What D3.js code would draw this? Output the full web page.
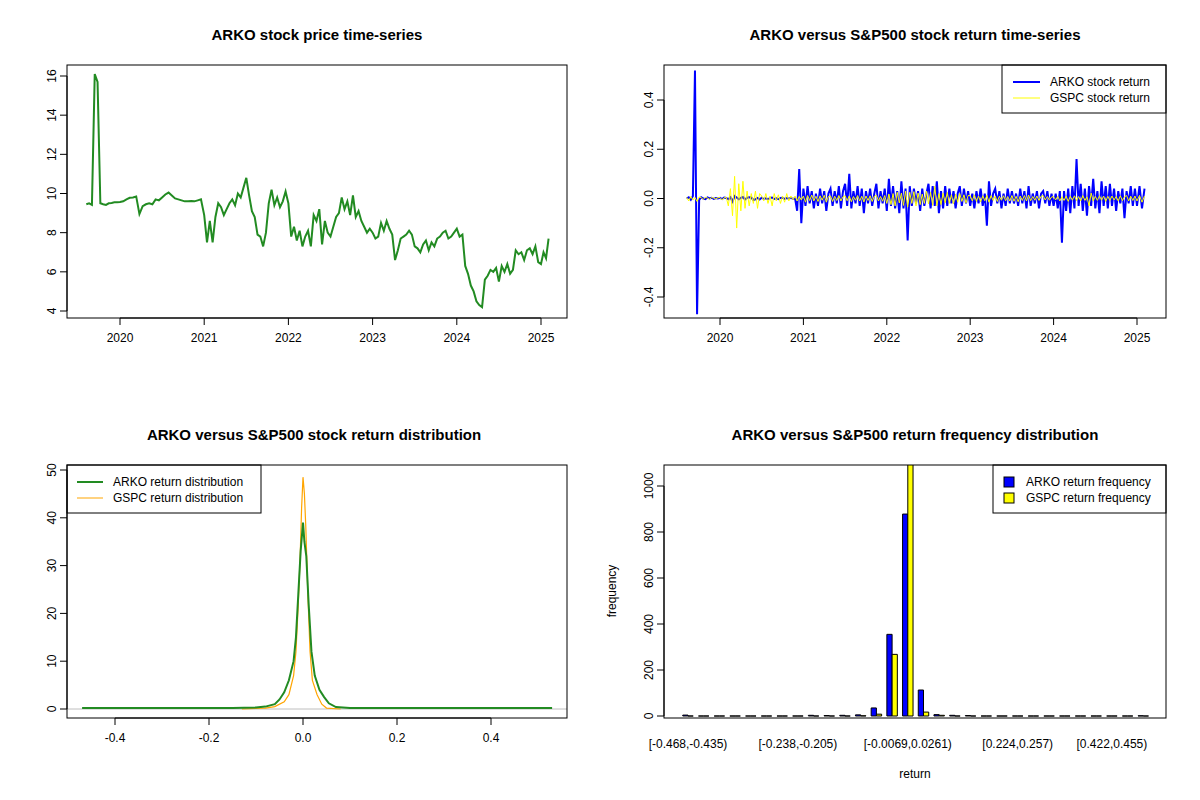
<!DOCTYPE html>
<html>
<head>
<meta charset="utf-8">
<script src="https://cdn.jsdelivr.net/npm/d3@7"></script>
<style>
  body { margin: 0; background: #fff; }
  text { font-family: "Liberation Sans", Arial, sans-serif; }
</style>
</head>
<body>
<div id="chart"></div>
<script>
// Data: ARKO price, evenly spaced within each year segment
const price2019 = [9.45,9.5,9.42,16.1,15.7,9.5,9.45,9.42,9.5,9.52,9.55,9.55]
const price2020 = [9.57,9.6,9.7,9.78,9.8,9.85,8.95,9.35,9.45,9.5,9.45,9.7,9.65,9.8,9.95,10.05,9.9,9.75,9.7,9.65,9.6,9.6,9.62,9.6,9.65,9.7]
const price2021 = [8.9,7.5,8.6,7.5,8.8,9.5,9.3,8.9,9.2,9.5,9.7,9.4,10.0,9.8,10.3,10.8,9.9,9.1,8.8,7.9,7.8,7.3,8.0,9.5,10.2,9.4,9.8,9.3,9.6,10.1]
const price2022 = [9.5,7.8,8.3,7.6,8.1,7.3,7.8,8.1,7.3,8.9,8.6,9.2,7.4,8.6,8.0,7.8,8.3,8.8,9.0,9.8,9.2,9.6,8.9,9.9,8.8,9.1,8.6,8.3,8.0,8.2]
const price2023 = [8.0,7.7,7.8,8.5,8.1,8.6,8.2,7.9,6.6,7.1,7.7,7.8,7.9,8.1,7.9,7.3,7.2,7.0,7.4,7.6,7.1,7.5,7.3,7.7,7.8,8.0,8.1,7.7,7.8,8.0]
const price2024 = [8.2,7.8,7.9,6.3,5.9,5.3,5.0,4.5,4.3,4.2,5.6,5.8,6.1,6.0,6.2,5.5,6.3,6.0,6.4,5.9,6.1,7.1,6.9,7.0,6.6,7.1,7.2,6.9,7.3,6.5]
const price2025 = [6.4,7.0,6.7,7.7]

// Data: daily-ish returns
const arko2019 = [0,0.005,-0.005,0.01,0.52,-0.47,-0.005,0.005,0,-0.003,0.004,0,0.003,-0.002,0.002,0]
const arko2020 = [0.003,-0.002,0.004,0.002,-0.003,0.005,-0.012,0.01,0.004,-0.003,0.002,0.006,-0.004,0.003,0.005,0.004,-0.006,-0.003,0.002,-0.004,0.003,-0.002,0.001,-0.003,0.002,0.004,-0.002,0.001,-0.003,0.002,0.003,-0.002,0.002,-0.001,0.003,-0.002,0.001,-0.05,0.12,-0.1]
const arko2021 = [0.04,-0.03,0.05,-0.02,0.03,-0.04,0.02,-0.03,0.04,-0.02,0.03,-0.05,0.02,0.04,-0.03,0.03,-0.02,0.05,-0.04,0.03,0.06,-0.03,0.1,-0.04,0.03,-0.02,0.05,-0.03,0.04,-0.06,0.03,-0.02,0.04,-0.03,0.02,0.06,-0.04,0.03,-0.02,0.04]
const arko2022 = [-0.05,0.08,-0.03,0.05,-0.04,0.03,-0.06,0.07,-0.04,0.04,-0.17,0.05,-0.03,0.04,-0.02,0.03,-0.05,0.04,-0.03,0.02,0.06,-0.04,0.05,-0.03,0.07,-0.06,0.03,-0.04,0.05,-0.03,0.04,-0.02,0.03,-0.04,0.02,0.05,-0.03,0.04,-0.02,0.03]
const arko2023 = [-0.03,0.02,-0.04,0.03,-0.02,0.04,-0.03,0.02,-0.11,0.07,-0.03,0.02,0.04,-0.02,0.03,-0.04,0.02,-0.03,0.04,-0.02,0.03,-0.02,0.02,-0.03,0.04,-0.02,0.03,-0.04,0.05,-0.03,0.02,-0.02,0.03,-0.04,0.02,0.03,-0.02,0.03,-0.03,0.02]
const arko2024 = [-0.03,0.02,-0.04,0.03,-0.18,0.03,-0.05,0.04,-0.06,0.05,-0.04,0.16,-0.03,0.06,-0.05,0.04,-0.07,0.05,-0.03,0.08,-0.04,0.03,-0.06,0.07,-0.03,0.05,-0.04,0.06,-0.03,0.04,-0.05,0.03,-0.02,0.04,-0.08,0.03,-0.02,0.05,-0.03,0.04]
const arko2025 = [-0.03,0.05,-0.04,0.04]

const gspc2019 = [0.005,-0.01,0.008,-0.006,0.004,-0.012,0.006,0.003,-0.004,0.005,0.002,-0.003,0.004,0.002,-0.002,0.003]
const gspc2020 = [0.004,-0.006,0.003,0.005,-0.03,0.04,-0.07,0.09,-0.12,0.06,-0.05,0.07,-0.04,0.03,-0.03,0.02,-0.02,0.03,-0.04,0.02,0.01,-0.01,0.02,-0.02,0.01,-0.03,0.02,-0.01,0.015,-0.02,0.01,-0.015,0.02,-0.01,0.01,-0.005,0.01,-0.01,0.008,-0.006]
const gspc2021 = [0.01,-0.015,0.012,-0.008,0.014,-0.01,0.009,-0.012,0.011,-0.007,0.013,-0.015,0.008,0.01,-0.012,0.009,-0.008,0.012,-0.01,0.007,0.011,-0.009,0.01,-0.013,0.008,-0.007,0.012,-0.01,0.009,-0.014,0.01,-0.008,0.011,-0.012,0.009,0.013,-0.01,0.008,-0.011,0.012]
const gspc2022 = [-0.02,0.018,-0.025,0.02,-0.03,0.025,-0.018,0.022,-0.028,0.03,-0.035,0.025,-0.02,0.028,-0.03,0.022,-0.025,0.018,-0.02,0.03,-0.022,0.025,-0.028,0.05,-0.03,0.02,-0.025,0.022,-0.018,0.025,-0.02,0.015,-0.022,0.018,-0.015,0.02,-0.012,0.015,-0.018,0.012]
const gspc2023 = [0.012,-0.01,0.015,-0.012,0.01,-0.014,0.011,-0.009,0.013,-0.015,0.012,-0.008,0.01,-0.012,0.009,-0.007,0.011,-0.009,0.008,-0.01,0.012,-0.011,0.009,-0.013,0.01,-0.008,0.012,-0.01,0.014,-0.009,0.008,-0.007,0.01,-0.008,0.009,0.012,-0.006,0.008,-0.007,0.006]
const gspc2024 = [0.008,-0.006,0.009,-0.01,0.007,-0.008,0.01,-0.012,0.009,-0.007,0.011,-0.009,0.008,-0.01,0.012,-0.008,0.007,-0.03,0.022,-0.01,0.009,-0.008,0.011,-0.007,0.01,-0.012,0.009,-0.008,0.01,-0.006,0.008,-0.01,0.011,-0.009,0.007,0.012,-0.01,0.009,-0.008,0.01]
const gspc2025 = [-0.01,0.012,-0.015,0.01]

// Data: kernel densities
const arkoDensX = [-0.47,-0.15,-0.1,-0.08,-0.06,-0.05,-0.04,-0.03,-0.02,-0.015,-0.01,-0.005,0,0.003,0.007,0.012,0.018,0.025,0.035,0.045,0.055,0.07,0.1,0.53]
const arkoDensY = [0.2,0.2,0.3,0.5,1,2,3.5,6,10,15,24,33,39,35,32,22,12,7,4,2.5,1.2,0.4,0.2,0.2]
const gspcDensX = [-0.13,-0.08,-0.06,-0.04,-0.03,-0.02,-0.015,-0.01,-0.006,-0.003,0,0.003,0.006,0.01,0.015,0.02,0.03,0.04,0.05,0.08]
const gspcDensY = [0,0.2,0.5,1.5,3,7,12,22,32,42,48.5,45,38,25,12,6,3,1,0.2,0]

// Data: histogram of returns (30 bins of width 0.033 from -0.468)
const binLabels = {0: '[-0.468,-0.435)', 7: '[-0.238,-0.205)', 14: '[-0.0069,0.0261)', 21: '[0.224,0.257)', 27: '[0.422,0.455)'}
const arkoFreq = [4,0,0,0,0,0,0,0,3,2,3,5,35,355,878,113,6,3,2,0,0,0,0,0,0,0,0,0,0,1]
const gspcFreq = [0,0,0,0,0,0,0,0,0,0,0,1,8,268,1180,17,3,0,0,0,0,0,0,0,0,0,0,0,0,0]

// Build dated series from per-year segments
function dated(segments) {
  const starts = [2019.6, 2020, 2021, 2022, 2023, 2024, 2025]
  const ends = [2020, 2021, 2022, 2023, 2024, 2025, 2025.12]
  const out = []
  segments.forEach((seg, k) => {
    const step = (ends[k] - starts[k]) / seg.length
    seg.forEach((v, i) => out.push({ t: starts[k] + i * step, v }))
  })
  return out
}
const price = dated([price2019, price2020, price2021, price2022, price2023, price2024, price2025])
const arko = dated([arko2019, arko2020, arko2021, arko2022, arko2023, arko2024, arko2025])
const gspc = dated([gspc2019, gspc2020, gspc2021, gspc2022, gspc2023, gspc2024, gspc2025])

const svg = d3.select('#chart').append('svg').attr('width', 1200).attr('height', 800)

function box(l, t, r, b) {
  svg.append('rect').attr('x', l).attr('y', t).attr('width', r - l).attr('height', b - t)
    .attr('fill', 'none').attr('stroke', '#000')
}
function title(x, y, txt) {
  svg.append('text').attr('x', x).attr('y', y).attr('text-anchor', 'middle')
    .attr('font-size', 15).attr('font-weight', 'bold').text(txt)
}
// R-style axes: line from first to last tick only
function xAxis(scale, ticks, y, fmt) {
  const g = svg.append('g')
  g.append('line').attr('x1', scale(ticks[0])).attr('x2', scale(ticks[ticks.length - 1]))
    .attr('y1', y).attr('y2', y).attr('stroke', '#000')
  ticks.forEach(d => {
    g.append('line').attr('x1', scale(d)).attr('x2', scale(d)).attr('y1', y).attr('y2', y + 7).attr('stroke', '#000')
    g.append('text').attr('x', scale(d)).attr('y', y + 24).attr('text-anchor', 'middle')
      .attr('font-size', 12).text(fmt(d))
  })
}
function yAxis(scale, ticks, x, fmt) {
  const g = svg.append('g')
  g.append('line').attr('y1', scale(ticks[0])).attr('y2', scale(ticks[ticks.length - 1]))
    .attr('x1', x).attr('x2', x).attr('stroke', '#000')
  ticks.forEach(d => {
    g.append('line').attr('y1', scale(d)).attr('y2', scale(d)).attr('x1', x).attr('x2', x - 7).attr('stroke', '#000')
    g.append('text').attr('transform', `translate(${x - 11},${scale(d)}) rotate(-90)`)
      .attr('text-anchor', 'middle').attr('font-size', 12).text(fmt(d))
  })
}
function clip(id, l, t, r, b) {
  svg.append('clipPath').attr('id', id).append('rect')
    .attr('x', l).attr('y', t).attr('width', r - l).attr('height', b - t)
}

// Panel 1: price
{
  const x = d3.scaleLinear().domain([2020, 2025]).range([120, 541])
  const y = d3.scaleLinear().domain([4, 16]).range([311, 76])
  title(317, 40, 'ARKO stock price time-series')
  svg.append('path').datum(price)
    .attr('d', d3.line().x(d => x(d.t)).y(d => y(d.v)))
    .attr('fill', 'none').attr('stroke', '#228B22').attr('stroke-width', 2)
  box(67, 65, 567, 318)
  xAxis(x, d3.range(2020, 2026), 318, d => d)
  yAxis(y, [4, 6, 8, 10, 12, 14, 16], 67, d => d)
}

// Panel 2: returns
{
  const x = d3.scaleLinear().domain([2020, 2025]).range([720, 1137])
  const y = d3.scaleLinear().domain([-0.4, 0.4]).range([297, 100])
  title(915, 40, 'ARKO versus S&P500 stock return time-series')
  clip('c2', 664, 65, 1166, 318)
  const line = d3.line().x(d => x(d.t)).y(d => y(d.v))
  svg.append('path').datum(arko).attr('d', line).attr('clip-path', 'url(#c2)')
    .attr('fill', 'none').attr('stroke', '#0000FF').attr('stroke-width', 2)
  svg.append('path').datum(gspc).attr('d', line).attr('clip-path', 'url(#c2)')
    .attr('fill', 'none').attr('stroke', '#FFFF00').attr('stroke-width', 1)
  box(664, 65, 1166, 318)
  xAxis(x, d3.range(2020, 2026), 318, d => d)
  yAxis(y, [-0.4, -0.2, 0, 0.2, 0.4], 664, d => d === 0 ? '0.0' : d.toFixed(1))
  box(1002, 65, 1166, 113)
  const lg = [['ARKO stock return', '#0000FF', 2], ['GSPC stock return', '#FFFF00', 1]]
  lg.forEach((d, i) => {
    svg.append('line').attr('x1', 1013).attr('x2', 1040).attr('y1', 82 + i * 16).attr('y2', 82 + i * 16)
      .attr('stroke', d[1]).attr('stroke-width', d[2])
    svg.append('text').attr('x', 1050).attr('y', 86 + i * 16).attr('font-size', 12).text(d[0])
  })
}

// Panel 3: densities
{
  const x = d3.scaleLinear().domain([-0.4, 0.4]).range([115, 491])
  const y = d3.scaleLinear().domain([0, 50]).range([709, 470])
  title(314, 440, 'ARKO versus S&P500 stock return distribution')
  svg.append('line').attr('x1', 67).attr('x2', 567).attr('y1', y(0)).attr('y2', y(0)).attr('stroke', '#bebebe')
  const line = d3.line().x(d => x(d[0])).y(d => y(d[1]))
  svg.append('path').datum(d3.zip(gspcDensX, gspcDensY)).attr('d', line)
    .attr('fill', 'none').attr('stroke', '#FFA500').attr('stroke-width', 1.2)
  svg.append('path').datum(d3.zip(arkoDensX, arkoDensY)).attr('d', line)
    .attr('fill', 'none').attr('stroke', '#228B22').attr('stroke-width', 2)
  box(67, 465, 567, 718)
  xAxis(x, [-0.4, -0.2, 0, 0.2, 0.4], 718, d => d === 0 ? '0.0' : d.toFixed(1))
  yAxis(y, [0, 10, 20, 30, 40, 50], 67, d => d)
  box(67, 465, 261, 513)
  const lg = [['ARKO return distribution', '#228B22', 2], ['GSPC return distribution', '#FFA500', 1]]
  lg.forEach((d, i) => {
    svg.append('line').attr('x1', 77).attr('x2', 103).attr('y1', 482 + i * 16).attr('y2', 482 + i * 16)
      .attr('stroke', d[1]).attr('stroke-width', d[2])
    svg.append('text').attr('x', 113).attr('y', 486 + i * 16).attr('font-size', 12).text(d[0])
  })
}

// Panel 4: histogram bars (zero-height bars still show as a stroke)
{
  const step = 15.7
  const x = d3.scaleLinear().domain([0, 29]).range([688, 688 + 29 * step])
  const y = d3.scaleLinear().domain([0, 1000]).range([716, 486])
  const bw = step / 3
  title(915, 440, 'ARKO versus S&P500 return frequency distribution')
  clip('c4', 664, 465, 1166, 718)
  const g = svg.append('g').attr('clip-path', 'url(#c4)')
  const bar = off => (d, i) => {
    const x0 = x(i) + off
    return `M${x0},${y(0)}V${y(d)}H${x0 + bw}V${y(0)}Z`
  }
  g.selectAll('.a').data(arkoFreq).join('path').attr('d', bar(-bw))
    .attr('fill', '#0000FF').attr('stroke', '#000')
  g.selectAll('.b').data(gspcFreq).join('path').attr('d', bar(0))
    .attr('fill', '#FFFF00').attr('stroke', '#000')
  box(664, 465, 1166, 718)
  yAxis(y, [0, 200, 400, 600, 800, 1000], 664, d => d)
  Object.entries(binLabels).forEach(([i, t]) => {
    svg.append('text').attr('x', x(+i)).attr('y', 748).attr('text-anchor', 'middle').attr('font-size', 12).text(t)
  })
  svg.append('text').attr('x', 915).attr('y', 778).attr('text-anchor', 'middle').attr('font-size', 12).text('return')
  svg.append('text').attr('transform', 'translate(616,591) rotate(-90)').attr('text-anchor', 'middle')
    .attr('font-size', 12).text('frequency')
  box(993, 465, 1166, 513)
  const lg = [['ARKO return frequency', '#0000FF'], ['GSPC return frequency', '#FFFF00']]
  lg.forEach((d, i) => {
    svg.append('rect').attr('x', 1004).attr('y', 477 + i * 16).attr('width', 10).attr('height', 10)
      .attr('fill', d[1]).attr('stroke', '#000')
    svg.append('text').attr('x', 1026).attr('y', 486 + i * 16).attr('font-size', 12).text(d[0])
  })
}
</script>
</body>
</html>
